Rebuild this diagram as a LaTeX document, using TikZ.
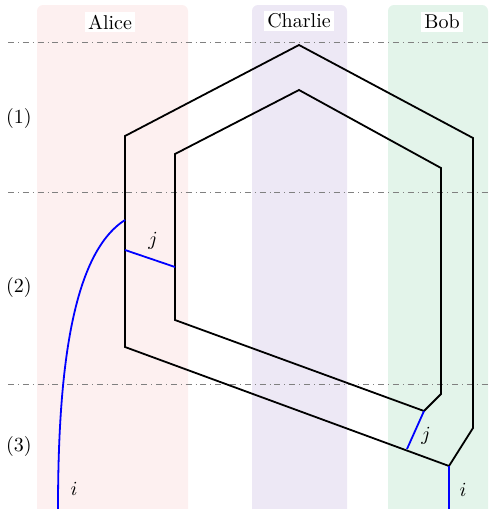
\documentclass[tikz,border=0pt]{standalone}
\usepackage{tikz}
\definecolor{alicec}{HTML}{FDF0F0}
\definecolor{charliec}{HTML}{EDE8F5}
\definecolor{bobc}{HTML}{E3F4EA}
\tikzset{
  band/.style={rounded corners=3pt},
  party/.style={fill=white, inner sep=1.5pt},
  sep/.style={gray, thin, dash dot},
  wire/.style={black, line width=0.9pt},
  bluew/.style={blue, line width=0.9pt},
  stage/.style={inner sep=0pt},
}
\begin{document}
\begin{tikzpicture}[x=0.5pt,y=-0.5pt]
\useasboundingbox (0,0) rectangle (490,509);
% bands
\fill[alicec, band] (37,5) rectangle (188,520);
\fill[charliec, band] (252,5) rectangle (347,520);
\fill[bobc, band] (388,5) rectangle (488,520);
\node[party] (alice) at (110,22) {Alice};
\node[party] (charlie) at (299,21) {Charlie};
\node[party] (bob) at (442,22) {Bob};
% separators
\coordinate (s1a) at (8,42); \coordinate (s1b) at (490,42);
\coordinate (s2a) at (8,192); \coordinate (s2b) at (490,192);
\coordinate (s3a) at (8,384); \coordinate (s3b) at (490,384);
\draw[sep] (s1a) -- (s1b);
\draw[sep] (s2a) -- (s2b);
\draw[sep] (s3a) -- (s3b);
\node[stage] (st1) at (19,118) {(1)};
\node[stage] (st2) at (19,287) {(2)};
\node[stage] (st3) at (19,446) {(3)};
% outer path
\coordinate (ot) at (299,45);
\coordinate (ol1) at (125,136);
\coordinate (ol2) at (125,347);
\coordinate (ob) at (449,466);
\coordinate (or1) at (473,428);
\coordinate (or2) at (473,138);
\draw[wire] (ot) -- (ol1) -- (ol2) -- (ob) -- (or1) -- (or2) -- cycle;
% inner path
\coordinate (it) at (299,90);
\coordinate (il1) at (175,154);
\coordinate (il2) at (175,320);
\coordinate (ib) at (424,411);
\coordinate (ir1) at (441,394);
\coordinate (ir2) at (441,168);
\draw[wire] (it) -- (il1) -- (il2) -- (ib) -- (ir1) -- (ir2) -- cycle;
% blue wires
\coordinate (ia) at (125,220);
\coordinate (iend) at (58,509);
\draw[bluew] (ia) .. controls (70,255) and (58,380) .. (iend);
\coordinate (ja) at (125,250);
\coordinate (jb) at (175,267);
\draw[bluew] (ja) -- (jb);
\coordinate (jc) at (407,449);
\draw[bluew] (ib) -- (jc);
\coordinate (ibot) at (449,509);
\draw[bluew] (ob) -- (ibot);
\node (lj1) at (153,241) {$j$};
\node (lj2) at (426,436) {$j$};
\node (li1) at (74,489) {$i$};
\node (li2) at (463,490) {$i$};
\end{tikzpicture}
\end{document}
